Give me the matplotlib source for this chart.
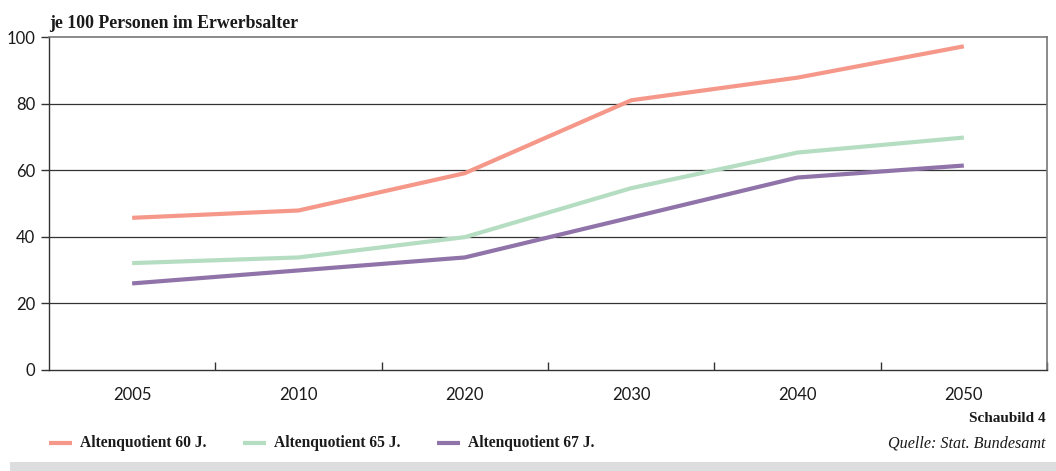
import matplotlib.pyplot as plt
from matplotlib.lines import Line2D

years = ["2005", "2010", "2020", "2030", "2040", "2050"]
quote_60 = [45.7, 47.9, 59.1, 81.0, 87.8, 97.2]
quote_65 = [32.1, 33.8, 39.9, 54.6, 65.3, 69.8]
quote_67 = [26.0, 29.9, 33.8, 45.8, 57.8, 61.4]
series_names = ["Altenquotient 60 J.", "Altenquotient 65 J.", "Altenquotient 67 J."]
series_colors = ["#F5988A", "#B5DDC2", "#8F73A9"]
y_ticks = [0, 20, 40, 60, 80, 100]

serif = ["Liberation Serif", "DejaVu Serif"]
sans = ["Lato", "DejaVu Sans"]
ink = "#1a1a1a"

fig = plt.figure(figsize=(10.56, 4.71), dpi=100)
ax = fig.add_axes([49 / 1056, 101 / 471, 998 / 1056, 333 / 471])

x = list(range(len(years)))
for vals, col in zip([quote_60, quote_65, quote_67], series_colors):
    ax.plot(x, vals, color=col, lw=3.0, solid_capstyle="butt", zorder=3)

ax.set_xlim(-0.5, len(years) - 0.5)
ax.set_ylim(0, 100)
ax.set_yticks(y_ticks)
ax.set_yticklabels([str(v) for v in y_ticks], family=sans, fontsize=12, color=ink)
for v in y_ticks[1:-1]:
    ax.axhline(v, color="#333333", lw=0.9, zorder=1)

ax.set_xticks(x)
ax.set_xticklabels(years, family=sans, fontsize=12, color=ink)
ax.tick_params(axis="x", which="major", length=0, pad=12)
ax.set_xticks([i + 0.5 for i in range(len(years))], minor=True)
ax.tick_params(axis="x", which="minor", length=6, width=1.0, color="#333333", direction="in")
ax.tick_params(axis="y", length=6, width=1.0, color="#333333", pad=4)

for side in ["left", "bottom"]:
    ax.spines[side].set_color("#333333")
    ax.spines[side].set_linewidth(1.0)
for side in ["top", "right"]:
    ax.spines[side].set_color("#777777")
    ax.spines[side].set_linewidth(1.2)

fig.text(49 / 1056, 1 - 28 / 471, "je 100 Personen im Erwerbsalter", family=serif,
         fontsize=12.8, fontweight="bold", color=ink, va="baseline", ha="left")

# legend row
legend_y = 1 - 443 / 471
starts = [49, 243, 437]
for sx, name, col in zip(starts, series_names, series_colors):
    fig.add_artist(Line2D([sx / 1056, (sx + 23) / 1056], [legend_y, legend_y],
                          color=col, lw=3.0, solid_capstyle="butt"))
    fig.text((sx + 31) / 1056, legend_y, name, family=serif, fontsize=11.2,
             color=ink, va="center", ha="left", fontweight="bold")

fig.text(1046 / 1056, 1 - 418 / 471, "Schaubild 4", family=serif, fontsize=11,
         fontweight="bold", color=ink, va="center", ha="right")
fig.text(1046 / 1056, legend_y, "Quelle: Stat. Bundesamt", family=serif, fontsize=11.6,
         style="italic", color=ink, va="center", ha="right")

# grey band along the bottom edge
fig.patches.append(plt.Rectangle((10 / 1056, 0), 1 - 10 / 1056, 9 / 471,
                                 transform=fig.transFigure, color="#DCDDDE", lw=0))

fig.savefig("out.png", dpi=100)
